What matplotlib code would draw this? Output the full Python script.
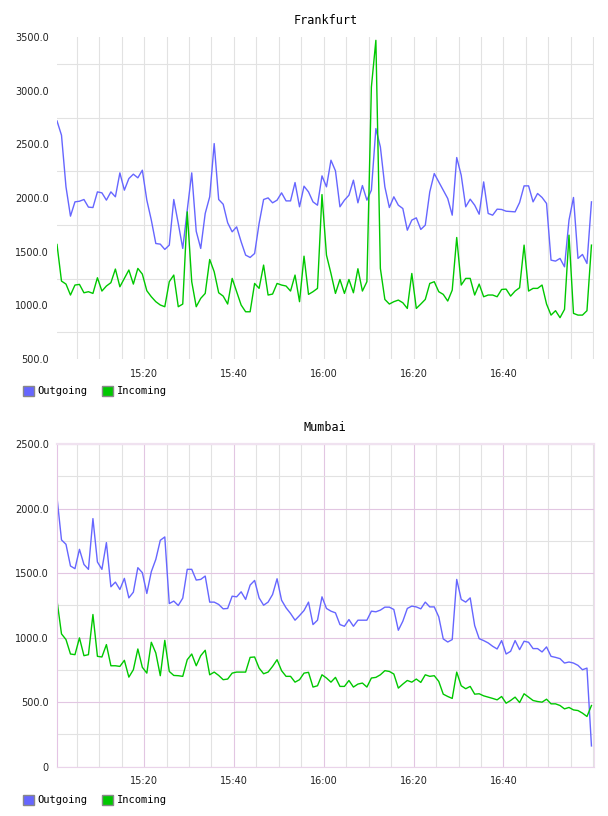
import numpy as np
import matplotlib.pyplot as plt
from matplotlib.patches import Patch
from matplotlib.ticker import MultipleLocator, FixedLocator, FuncFormatter

# one sample per minute, minutes after 15:00
minutes = np.arange(120) + 0.6

frankfurt_out = [2718, 2585, 2104, 1831, 1964, 1970, 1986, 1915, 1911, 2057,
                 2048, 1980, 2057, 2011, 2234, 2073, 2181, 2222, 2188, 2259,
                 1980, 1794, 1576, 1570, 1521, 1561, 1986, 1763, 1530, 1887,
                 2234, 1690, 1530, 1856, 2011, 2507, 1986, 1942, 1769, 1685,
                 1731, 1592, 1468, 1446, 1483, 1763, 1986, 2001, 1955, 1980,
                 2048, 1973, 1973, 2144, 1918, 2110, 2057, 1964, 1933, 2206,
                 2104, 2352, 2253, 1918, 1980, 2026, 2166, 1955, 2116, 1980,
                 2073, 2647, 2476, 2104, 1911, 2011, 1933, 1902, 1700, 1794,
                 1815, 1707, 1747, 2057, 2228, 2150, 2073, 1995, 1840, 2377,
                 2212, 1918, 1989, 1933, 1849, 2150, 1856, 1840, 1896, 1893,
                 1877, 1874, 1871, 1958, 2113, 2113, 1964, 2042, 2005, 1949,
                 1421, 1412, 1437, 1359, 1794, 2005, 1437, 1474, 1390, 1964]

frankfurt_in = [1567, 1226, 1198, 1096, 1189, 1195, 1117, 1127, 1111, 1257,
                1133, 1180, 1211, 1338, 1173, 1251, 1329, 1198, 1344, 1291,
                1136, 1080, 1034, 1003, 987, 1220, 1282, 987, 1012, 1871,
                1220, 987, 1065, 1111, 1427, 1313, 1117, 1086, 1012, 1251,
                1127, 1003, 940, 940, 1204, 1158, 1375, 1096, 1105, 1204,
                1189, 1180, 1133, 1282, 1034, 1458, 1102, 1127, 1158, 2032,
                1468, 1297, 1111, 1241, 1111, 1241, 1117, 1341, 1133, 1220,
                3034, 3469, 1344, 1055, 1012, 1034, 1049, 1024, 971, 1297,
                971, 1012, 1055, 1204, 1220, 1127, 1102, 1040, 1142, 1632,
                1189, 1251, 1251, 1096, 1198, 1080, 1096, 1096, 1080, 1148,
                1151, 1086, 1133, 1164, 1561, 1133, 1158, 1158, 1189, 1012,
                909, 950, 885, 962, 1654, 925, 909, 909, 950, 1561]

mumbai_out = [2086, 1757, 1723, 1555, 1534, 1684, 1567, 1529, 1922, 1586,
              1529, 1736, 1394, 1430, 1373, 1459, 1308, 1352, 1542, 1503,
              1342, 1511, 1606, 1754, 1780, 1264, 1283, 1249, 1306, 1529,
              1529, 1446, 1451, 1477, 1275, 1275, 1257, 1223, 1226, 1321,
              1316, 1355, 1296, 1407, 1443, 1308, 1251, 1275, 1334, 1456,
              1290, 1231, 1187, 1135, 1171, 1210, 1275, 1101, 1135, 1316,
              1226, 1205, 1192, 1101, 1088, 1140, 1088, 1135, 1135, 1135,
              1205, 1200, 1213, 1236, 1236, 1218, 1057, 1127, 1226, 1244,
              1238, 1223, 1275, 1238, 1238, 1161, 990, 966, 985, 1451,
              1296, 1275, 1308, 1093, 992, 977, 959, 933, 912, 977,
              873, 894, 977, 907, 972, 964, 915, 915, 889, 928,
              855, 847, 837, 803, 811, 803, 785, 751, 764, 161]

mumbai_in = [1288, 1029, 985, 873, 868, 998, 860, 868, 1179, 855,
             850, 946, 782, 782, 777, 824, 694, 751, 912, 770,
             725, 964, 881, 705, 979, 738, 707, 705, 700, 829,
             873, 782, 860, 902, 712, 733, 707, 674, 679, 725,
             733, 733, 733, 847, 850, 764, 720, 733, 777, 829,
             744, 700, 700, 655, 674, 725, 731, 617, 627, 712,
             687, 655, 692, 622, 622, 668, 617, 640, 648, 617,
             687, 692, 712, 744, 738, 718, 609, 640, 668, 655,
             679, 653, 712, 700, 705, 661, 562, 544, 529, 733,
             627, 604, 622, 562, 565, 549, 539, 529, 518, 544,
             492, 513, 539, 497, 565, 539, 513, 505, 500, 523,
             487, 487, 474, 448, 459, 440, 435, 415, 389, 474]

time_ticks = [20, 40, 60, 80, 100]
time_labels = ["15:20", "15:40", "16:00", "16:20", "16:40"]

BLUE = "#6666ff"
GREEN = "#00c800"
GRAY_GRID = "#e2e2e2"
PINK_GRID = "#e2c6e2"


def value_fmt(v, pos):
    return "0" if v == 0 else "%.1f" % v


def setup_axis(ax, title, ylim):
    ax.set_xlim(0.6, 120.1)
    ax.set_ylim(*ylim)
    ax.xaxis.set_major_locator(FixedLocator(time_ticks))
    ax.set_xticklabels(time_labels)
    ax.xaxis.set_minor_locator(MultipleLocator(5))
    ax.yaxis.set_major_locator(MultipleLocator(500))
    ax.yaxis.set_minor_locator(MultipleLocator(250))
    ax.yaxis.set_major_formatter(FuncFormatter(value_fmt))
    ax.tick_params(which="both", length=0, labelsize=7, colors="#222222")
    ax.tick_params(axis="x", pad=7)
    ax.tick_params(axis="y", pad=6)
    ax.set_axisbelow(True)
    ax.set_title(title, fontfamily="DejaVu Sans Mono", fontsize=8.5, pad=9.5)


fig = plt.figure(figsize=(6.08, 8.16), dpi=100)
ax1 = fig.add_axes([57 / 608, 1 - 359 / 816, 536.7 / 608, 322 / 816])
ax2 = fig.add_axes([57 / 608, 1 - 766.7 / 816, 536.7 / 608, 322.7 / 816])

# Frankfurt: gray grid, only in-between lines horizontally, no frame
ax1.plot(minutes, frankfurt_out, color=BLUE, lw=1.0)
ax1.plot(minutes, frankfurt_in, color=GREEN, lw=1.0)
setup_axis(ax1, "Frankfurt", (500, 3500))
ax1.xaxis.grid(True, which="both", color=GRAY_GRID, lw=0.8)
ax1.yaxis.grid(True, which="minor", color=GRAY_GRID, lw=0.8)
ax1.yaxis.grid(False, which="major")
for s in ax1.spines.values():
    s.set_visible(False)

# Mumbai: pink major grid, gray minor grid, pink frame
ax2.plot(minutes, mumbai_out, color=BLUE, lw=1.0)
ax2.plot(minutes, mumbai_in, color=GREEN, lw=1.0)
setup_axis(ax2, "Mumbai", (0, 2500))
ax2.grid(which="minor", color=GRAY_GRID, lw=0.8)
ax2.grid(which="major", color=PINK_GRID, lw=0.8)
ax2.spines["left"].set_color("#e4c4e4")
ax2.spines["bottom"].set_color("#ead4ea")
ax2.spines["right"].set_color("#eedcee")
ax2.spines["top"].set_color("#f0e2f0")
ax2.spines["top"].set_linewidth(1.6)

handles = [Patch(facecolor=BLUE, edgecolor="#888888", label="Outgoing"),
           Patch(facecolor=GREEN, edgecolor="#888888", label="Incoming")]
for ax, top in [(ax1, 386), (ax2, 795)]:
    ax.legend(handles=handles, loc="upper left", ncol=2, frameon=False,
              bbox_to_anchor=(23 / 608, 1 - top / 816), bbox_transform=fig.transFigure,
              prop={"family": "DejaVu Sans Mono", "size": 7.5},
              handlelength=1.05, handleheight=1.05, handletextpad=0.35,
              columnspacing=1.4, borderaxespad=0, borderpad=0)

fig.savefig("out.png", dpi=100)
